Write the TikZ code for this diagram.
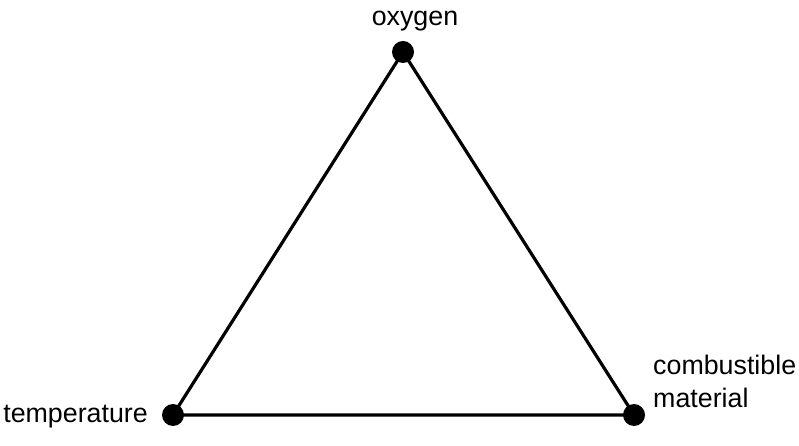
\documentclass[tikz,border=0pt]{standalone}
\usepackage{fontspec}
\setmainfont{Liberation Sans}
\begin{document}
\begin{tikzpicture}[x=1pt,y=1pt,
  dot/.style={circle,fill=black,inner sep=0pt,minimum size=22pt},
  lbl/.style={font=\fontsize{26.8}{32.5}\selectfont,inner sep=0pt},
  edge/.style={line width=3.2pt}]
\useasboundingbox (0,0) rectangle (799,446);
\node[dot] (o) at (403,394) {};
\node[dot] (t) at (173,31) {};
\node[dot] (c) at (634,31) {};
\draw[edge] (o.center) -- (t.center) -- (c.center) -- cycle;
\node[lbl,anchor=base] (lo) at (415,420) {oxygen};
\node[lbl,anchor=base east] (lt) at (148,23) {temperature};
\node[lbl,anchor=base west,align=left] (lc) at (653,38.5) {combustible\\material};
\end{tikzpicture}
\end{document}
